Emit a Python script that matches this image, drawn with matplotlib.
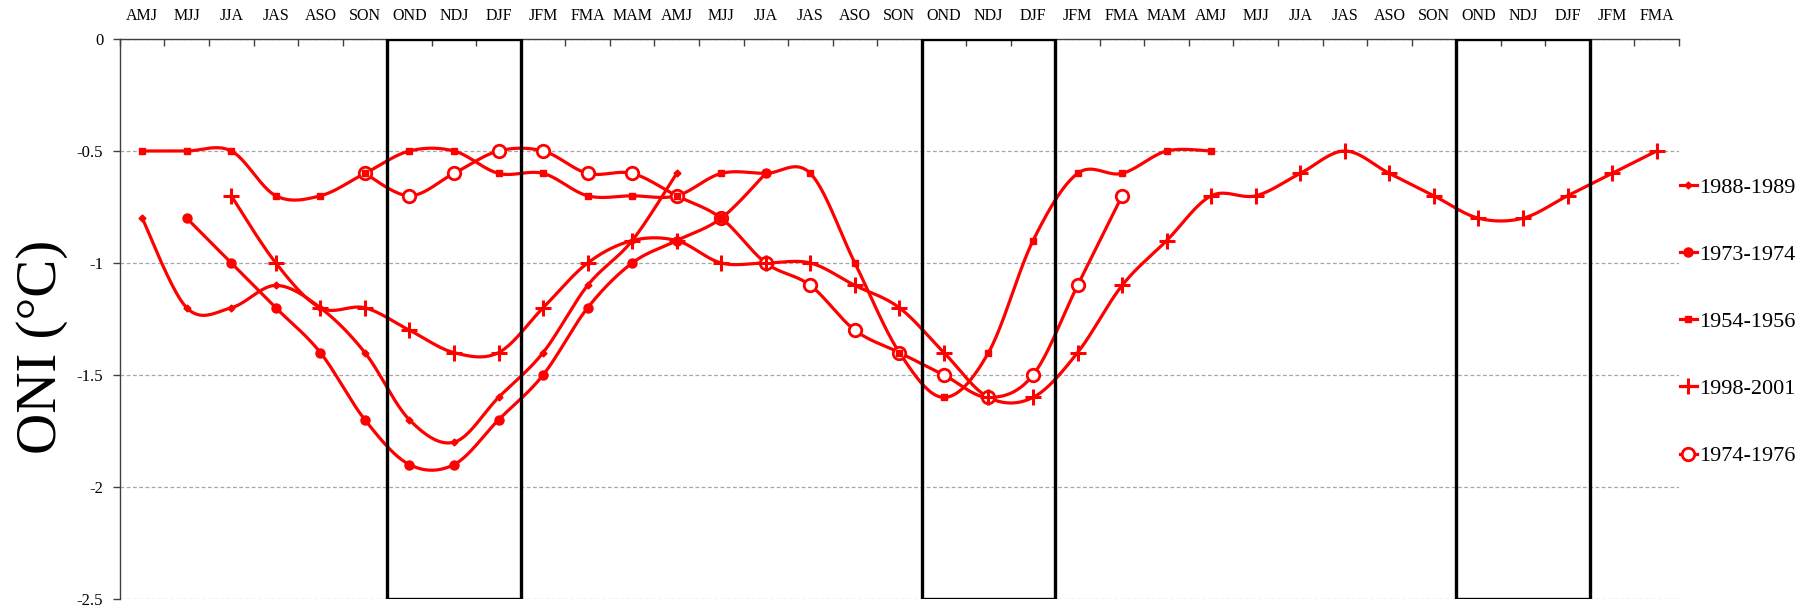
import numpy as np
import matplotlib
matplotlib.use("Agg")
import matplotlib.pyplot as plt
from matplotlib.lines import Line2D
from matplotlib.patches import Rectangle

plt.rcParams['font.family'] = ['Liberation Serif', 'DejaVu Serif']
plt.rcParams['axes.unicode_minus'] = False

# 3-month running seasons on the category axis
seasons = ['AMJ', 'MJJ', 'JJA', 'JAS', 'ASO', 'SON', 'OND', 'NDJ', 'DJF', 'JFM', 'FMA', 'MAM',
           'AMJ', 'MJJ', 'JJA', 'JAS', 'ASO', 'SON', 'OND', 'NDJ', 'DJF', 'JFM', 'FMA', 'MAM',
           'AMJ', 'MJJ', 'JJA', 'JAS', 'ASO', 'SON', 'OND', 'NDJ', 'DJF', 'JFM', 'FMA']

# ONI values per episode, with the season index where each starts
oni_1988_1989 = [-0.8, -1.2, -1.2, -1.1, -1.2, -1.4, -1.7, -1.8, -1.6, -1.4, -1.1, -0.9, -0.6]
start_1988_1989 = 0

oni_1973_1974 = [-0.8, -1.0, -1.2, -1.4, -1.7, -1.9, -1.9, -1.7, -1.5, -1.2, -1.0, -0.9, -0.8, -0.6]
start_1973_1974 = 1

oni_1954_1956 = [-0.5, -0.5, -0.5, -0.7, -0.7, -0.6, -0.5, -0.5, -0.6, -0.6, -0.7, -0.7, -0.7,
                 -0.6, -0.6, -0.6, -1.0, -1.4, -1.6, -1.4, -0.9, -0.6, -0.6, -0.5, -0.5]
start_1954_1956 = 0

oni_1998_2001 = [-0.7, -1.0, -1.2, -1.2, -1.3, -1.4, -1.4, -1.2, -1.0, -0.9, -0.9, -1.0, -1.0,
                 -1.0, -1.1, -1.2, -1.4, -1.6, -1.6, -1.4, -1.1, -0.9, -0.7, -0.7, -0.6, -0.5,
                 -0.6, -0.7, -0.8, -0.8, -0.7, -0.6, -0.5]
start_1998_2001 = 2

oni_1974_1976 = [-0.6, -0.7, -0.6, -0.5, -0.5, -0.6, -0.6, -0.7, -0.8, -1.0, -1.1, -1.3, -1.4,
                 -1.5, -1.6, -1.5, -1.1, -0.7]
start_1974_1976 = 5

yticks = [0, -0.5, -1, -1.5, -2, -2.5]


def smooth(x, y, n=24):
    # Excel-like smoothed line: Catmull-Rom segments as cubic Bezier
    x = np.asarray(x, float)
    y = np.asarray(y, float)
    px = np.r_[x[0], x, x[-1]]
    py = np.r_[y[0], y, y[-1]]
    t = np.linspace(0, 1, n)
    xs, ys = [], []
    for i in range(len(x) - 1):
        for p, out in ((px, xs), (py, ys)):
            b0 = p[i + 1]
            b1 = p[i + 1] + (p[i + 2] - p[i]) / 6
            b2 = p[i + 2] - (p[i + 3] - p[i + 1]) / 6
            b3 = p[i + 2]
            seg = ((1 - t) ** 3) * b0 + 3 * ((1 - t) ** 2) * t * b1 + 3 * (1 - t) * t ** 2 * b2 + t ** 3 * b3
            out.append(seg if i == 0 else seg[1:])
    return np.concatenate(xs), np.concatenate(ys)


red = '#ff0000'
series = [
    ('1988-1989', oni_1988_1989, start_1988_1989, dict(marker='D', ms=3.5, mfc=red, mec=red)),
    ('1973-1974', oni_1973_1974, start_1973_1974, dict(marker='o', ms=6.5, mfc=red, mec=red)),
    ('1954-1956', oni_1954_1956, start_1954_1956, dict(marker='s', ms=4.5, mfc=red, mec=red)),
    ('1998-2001', oni_1998_2001, start_1998_2001, dict(marker='+', ms=11, mew=2.2, mec=red)),
    ('1974-1976', oni_1974_1976, start_1974_1976, dict(marker='o', ms=9, mew=2.0, mfc='white', mec=red)),
]

fig = plt.figure(figsize=(18.17, 6.13), dpi=100)
ax = fig.add_axes([0.066, 0.0228, 0.858, 0.9136])

handles = []
for k, (name, vals, start, mk) in enumerate(series):
    xi = np.arange(start, start + len(vals))
    sx, sy = smooth(xi, vals)
    z = 3 if name != '1974-1976' else 2.5
    ax.plot(sx, sy, color=red, lw=2.3, zorder=z, solid_capstyle='round')
    ax.plot(xi, vals, ls='none', zorder=z + 2.5, **mk)
    handles.append(Line2D([], [], color=red, lw=2.3, **mk))

# black boxes around the OND-NDJ-DJF seasons
for i, s in enumerate(seasons):
    if s == 'OND':
        ax.add_patch(Rectangle((i - 0.5, yticks[-1]), 3, yticks[0] - yticks[-1], fill=False,
                               ec='black', lw=2.4, zorder=4))

ax.set_xlim(-0.5, len(seasons) - 0.5)
ax.set_ylim(yticks[-1], yticks[0])

ax.set_yticks(yticks, labels=[f'{v:g}' for v in yticks])
ax.yaxis.grid(True, color='#a6a6a6', ls=(0, (3, 2)), lw=0.9)
ax.tick_params(axis='y', direction='out', length=5, width=1, color='#404040',
               labelsize=12, pad=7)

ax.xaxis.tick_top()
ax.set_xticks(np.arange(-0.5, len(seasons), 1))
ax.set_xticklabels([])
ax.set_xticks(np.arange(len(seasons)), minor=True)
ax.set_xticklabels(seasons, minor=True)
ax.tick_params(axis='x', which='major', direction='in', length=5, width=1, color='#404040')
ax.tick_params(axis='x', which='minor', length=0, labelsize=11.5, pad=11)

for side in ('right', 'bottom'):
    ax.spines[side].set_visible(False)
for side in ('left', 'top'):
    ax.spines[side].set_color('#404040')
    ax.spines[side].set_linewidth(1)

ax.set_ylabel('ONI (°C)', fontsize=41)
ax.yaxis.set_label_coords(-0.033, 0.45)

fig.legend(handles, [s[0] for s in series], loc='upper left',
           bbox_to_anchor=(1680 / 1817, 1 - 177 / 613), frameon=False,
           fontsize=16, handlelength=0.75, handletextpad=0.1, labelspacing=2.1,
           borderpad=0, borderaxespad=0)

fig.savefig('out.png', dpi=100)
